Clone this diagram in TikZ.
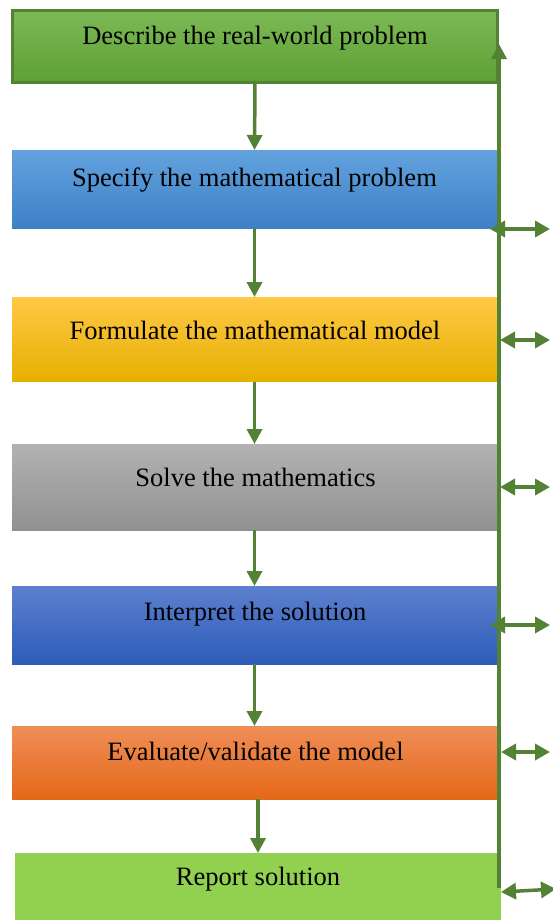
\documentclass[tikz,border=0pt]{standalone}
\usepackage{fontspec}
\setmainfont{Liberation Serif}
\usetikzlibrary{arrows.meta}

\definecolor{arrowgreen}{HTML}{548235}
\definecolor{greentop}{RGB}{124,185,86}
\definecolor{greenbot}{RGB}{94,160,52}
\definecolor{bluetop}{RGB}{98,162,222}
\definecolor{bluebot}{RGB}{62,128,198}
\definecolor{goldtop}{RGB}{255,200,70}
\definecolor{goldmid}{RGB}{255,192,0}
\definecolor{goldbot}{RGB}{230,176,0}
\definecolor{greytop}{RGB}{178,178,178}
\definecolor{greybot}{RGB}{145,145,145}
\definecolor{navytop}{RGB}{92,128,206}
\definecolor{navybot}{RGB}{46,92,184}
\definecolor{orangetop}{RGB}{240,142,88}
\definecolor{orangemid}{RGB}{242,124,42}
\definecolor{orangebot}{RGB}{228,104,24}
\definecolor{limefill}{RGB}{146,208,80}

\begin{document}
\begin{tikzpicture}[x=0.02cm,y=-0.02cm,
  stage/.style={minimum width=9.7cm,inner sep=0pt,outer sep=0pt},
  caption/.style={font=\fontsize{15.1}{18}\selectfont,inner sep=0pt},
  flow/.style={draw=arrowgreen,line width=0.07cm,-{Triangle[length=0.3cm,width=0.3cm]}},
  link/.style={draw=arrowgreen,line width=0.07cm,{Triangle[length=0.3cm,width=0.32cm]}-{Triangle[length=0.3cm,width=0.32cm]}}]

\useasboundingbox (0,0) rectangle (553,920);

\node[stage,minimum width=9.69cm,minimum height=1.44cm,draw=arrowgreen,line width=0.06cm,top color=greentop,bottom color=greenbot] (b1) at (255,46.5) {};
\node[stage,minimum height=1.58cm,top color=bluetop,bottom color=bluebot] (b2) at (254.5,189.5) {};
\node[stage,minimum height=1.7cm,top color=goldtop,middle color=goldmid,bottom color=goldbot] (b3) at (254.5,339.5) {};
\node[stage,minimum height=1.72cm,top color=greytop,bottom color=greybot] (b4) at (254.5,487) {};
\node[stage,minimum height=1.56cm,top color=navytop,bottom color=navybot] (b5) at (254.5,625) {};
\node[stage,minimum height=1.46cm,top color=orangetop,middle color=orangemid,bottom color=orangebot] (b6) at (254.5,762.5) {};
\node[stage,minimum width=9.72cm,minimum height=1.34cm,fill=limefill] (b7) at (258,886.5) {};

\node[caption] (t1) at (255,38.5) {Describe the real-world problem};
\node[caption] (t2) at (254.5,180.5) {Specify the mathematical problem};
\node[caption] (t3) at (255,330.5) {Formulate the mathematical model};
\node[caption] (t4) at (255.5,477.5) {Solve the mathematics};
\node[caption] (t5) at (255,614.5) {Interpret the solution};
\node[caption] (t6) at (255.5,751.5) {Evaluate/validate the model};
\node[caption] (t7) at (258,879.5) {Report solution};

\draw[flow] (b1.south) -- (b2.north);
\draw[flow] (b2.south) -- (b3.north);
\draw[flow] (b3.south) -- (b4.north);
\draw[flow] (b4.south) -- (b5.north);
\draw[flow] (b5.south) -- (b6.north);
\draw[flow] ([xshift=0.07cm]b6.south) -- ([xshift=0.07cm]b6.south |- b7.north);

\coordinate (s0) at (499,888);
\coordinate (s1) at (499,44);
\draw[flow] (s0) -- (s1);

\coordinate (l2) at (490,229);  \coordinate (r2) at (550,229);
\coordinate (l3) at (500,340);  \coordinate (r3) at (550,340);
\coordinate (l4) at (500,487);  \coordinate (r4) at (550,487);
\coordinate (l5) at (490,625);  \coordinate (r5) at (550,625);
\coordinate (l6) at (501,752);  \coordinate (r6) at (550,752);
\coordinate (l7) at (501,892);  \coordinate (r7) at (556,889);
\draw[link] (l2) -- (r2);
\draw[link] (l3) -- (r3);
\draw[link] (l4) -- (r4);
\draw[link] (l5) -- (r5);
\draw[link] (l6) -- (r6);
\draw[link] (l7) -- (r7);

\end{tikzpicture}
\end{document}
